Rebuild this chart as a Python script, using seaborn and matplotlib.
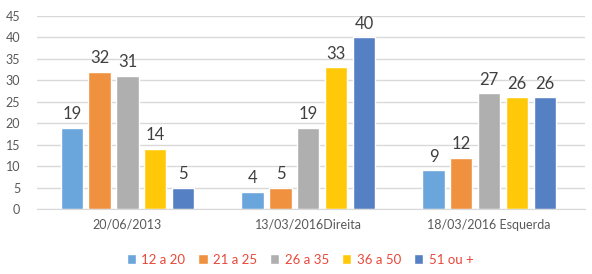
import pandas as pd
import matplotlib.pyplot as plt
import seaborn as sns

# dados do grafico
grupos = ["20/06/2013", "13/03/2016Direita", "18/03/2016 Esquerda"]
faixas = ["12 a 20", "21 a 25", "26 a 35", "36 a 50", "51 ou +"]
v_12_20 = [19, 4, 9]
v_21_25 = [32, 5, 12]
v_26_35 = [31, 19, 27]
v_36_50 = [14, 33, 26]
v_51 = [5, 40, 26]
cores = ["#6AA5DB", "#F0913F", "#AFAFAF", "#FFC90A", "#5580C4"]
y_ticks = [0, 5, 10, 15, 20, 25, 30, 35, 40, 45]

series = [v_12_20, v_21_25, v_26_35, v_36_50, v_51]
rows = []
for faixa, vals in zip(faixas, series):
    for g, v in zip(grupos, vals):
        rows.append({"grupo": g, "faixa": faixa, "valor": v})
df = pd.DataFrame(rows)

sns.set_style("white")
plt.rcParams["font.family"] = ["Lato", "DejaVu Sans"]

fig = plt.figure(figsize=(5.92, 2.74), dpi=100)
ax = fig.add_axes([37 / 592, 65 / 274, 548 / 592, 193 / 274])

sns.barplot(data=df, x="grupo", y="valor", hue="faixa", order=grupos,
            hue_order=faixas, palette=cores, width=0.77, gap=0.2,
            saturation=1, ax=ax, legend=True)

for c in ax.containers:
    ax.bar_label(c, padding=4, fontsize=12, color="#404040")

ax.set_ylim(0, 45)
ax.set_xlim(-0.5, 2.53)
ax.set_yticks(y_ticks)
ax.grid(axis="y", color="#D9D9D9", linewidth=1)
ax.set_axisbelow(True)
for s in ["top", "right", "left"]:
    ax.spines[s].set_visible(False)
ax.spines["bottom"].set_color("#D9D9D9")
ax.tick_params(axis="both", length=0, labelsize=9, colors="#595959", pad=12)
ax.tick_params(axis="x", pad=7)
ax.set_xlabel("")
ax.set_ylabel("")

handles, labels = ax.get_legend_handles_labels()
ax.legend(handles, labels, loc="upper center", bbox_to_anchor=(0.48, -0.17),
          ncol=5, frameon=False, fontsize=9.5, handlelength=0.7, handleheight=0.7,
          handletextpad=0.4, columnspacing=1.0, labelcolor="#E8483A")

fig.savefig("out.png", dpi=100)
